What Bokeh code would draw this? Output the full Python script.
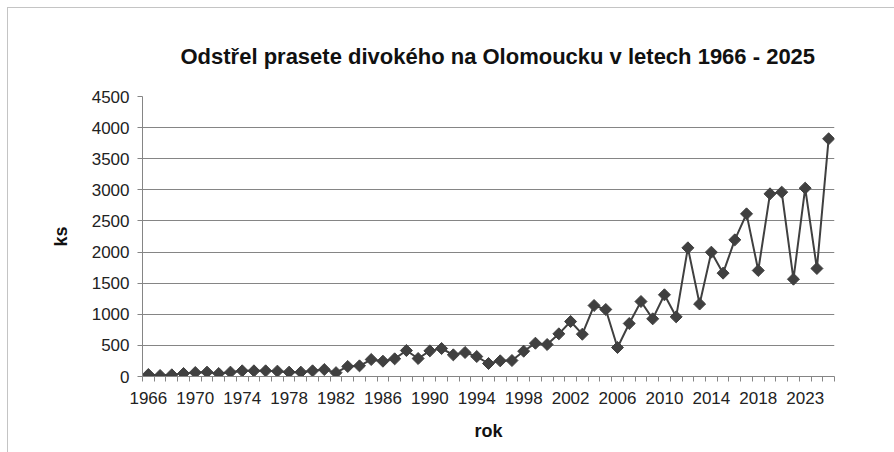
import numpy as np
from bokeh.plotting import figure
from bokeh.models import Range1d, FixedTicker
from bokeh.embed import file_html
from bokeh.resources import INLINE

# data (2021 missing in the source series)
years = [1966, 1967, 1968, 1969, 1970, 1971, 1972, 1973, 1974, 1975,
         1976, 1977, 1978, 1979, 1980, 1981, 1982, 1983, 1984, 1985,
         1986, 1987, 1988, 1989, 1990, 1991, 1992, 1993, 1994, 1995,
         1996, 1997, 1998, 1999, 2000, 2001, 2002, 2003, 2004, 2005,
         2006, 2007, 2008, 2009, 2010, 2011, 2012, 2013, 2014, 2015,
         2016, 2017, 2018, 2019, 2020, 2022, 2023, 2024, 2025]
ks = [32, 16, 27, 48, 64, 70, 48, 70, 91, 91,
      91, 86, 70, 70, 91, 112, 62, 161, 171, 273,
      246, 284, 418, 289, 412, 450, 348, 386, 321, 209,
      252, 257, 407, 535, 514, 686, 884, 680, 1141, 1077,
      466, 852, 1205, 927, 1313, 959, 2068, 1165, 1998, 1661,
      2196, 2614, 1704, 2936, 2963, 1564, 3027, 1736, 3820]
y_ticks = [0, 500, 1000, 1500, 2000, 2500, 3000, 3500, 4000, 4500]
title_text = "Odstřel prasete divokého na Olomoucku v letech 1966 - 2025"
x_title = "rok"
y_title = "ks"

n = len(years)
xs = list(range(n))

FONT = "Liberation Sans"
GRID = "#858585"
INK = "#404040"

p = figure(frame_width=692, frame_height=280,
           min_border_left=134, min_border_right=60,
           min_border_top=88, min_border_bottom=76,
           x_range=Range1d(-0.5, n - 0.5), y_range=Range1d(0, 4500),
           output_backend="svg", toolbar_location=None,
           background_fill_color="white", border_fill_color="white",
           title=title_text,
           styles={"outline": "1px solid #c4c4c4",
                   "margin-left": "8px", "margin-top": "8px"})
p.outline_line_color = None

p.title.align = "left"
p.title.offset = 38
p.title.standoff = 56
p.title.text_font = FONT
p.title.text_font_size = "22px"
p.title.text_font_style = "bold"
p.title.text_color = "#111111"

# x axis: labels every 4th category, ticks at category boundaries
label_idx = list(range(0, n, 4))
p.xaxis.ticker = FixedTicker(ticks=label_idx, minor_ticks=[i - 0.5 for i in range(n + 1)])
p.xaxis.major_label_overrides = {i: str(years[i]) for i in label_idx}
p.xaxis.major_tick_line_color = None
p.xaxis.major_tick_out = 0
p.xaxis.major_tick_in = 0
p.xaxis.minor_tick_out = 5
p.xaxis.minor_tick_in = 0
p.xaxis.minor_tick_line_color = GRID
p.xaxis.axis_line_color = GRID
p.xaxis.major_label_standoff = 10
p.xaxis.axis_label = x_title
p.xaxis.axis_label_standoff = 14
p.xgrid.grid_line_color = None

p.yaxis.ticker = FixedTicker(ticks=y_ticks, minor_ticks=[])
p.yaxis.major_tick_out = 5
p.yaxis.major_tick_in = 0
p.yaxis.major_tick_line_color = GRID
p.yaxis.axis_line_color = GRID
p.yaxis.minor_tick_line_color = None
p.yaxis.major_label_standoff = 8
p.yaxis.axis_label = y_title
p.yaxis.axis_label_standoff = 18
p.ygrid.grid_line_color = GRID
p.ygrid.grid_line_width = 1

for ax in (p.xaxis, p.yaxis):
    ax.major_label_text_font = FONT
    ax.major_label_text_font_size = "17px"
    ax.major_label_text_color = "#222222"
    ax.axis_label_text_font = FONT
    ax.axis_label_text_font_size = "18px"
    ax.axis_label_text_font_style = "bold"
    ax.axis_label_text_color = "#111111"

p.line(xs, ks, line_color=INK, line_width=2)
p.scatter(xs, ks, marker="square", angle=np.pi / 4, size=8.5,
          fill_color=INK, line_color=INK)

open("out.html", "w").write(file_html(p, INLINE))
